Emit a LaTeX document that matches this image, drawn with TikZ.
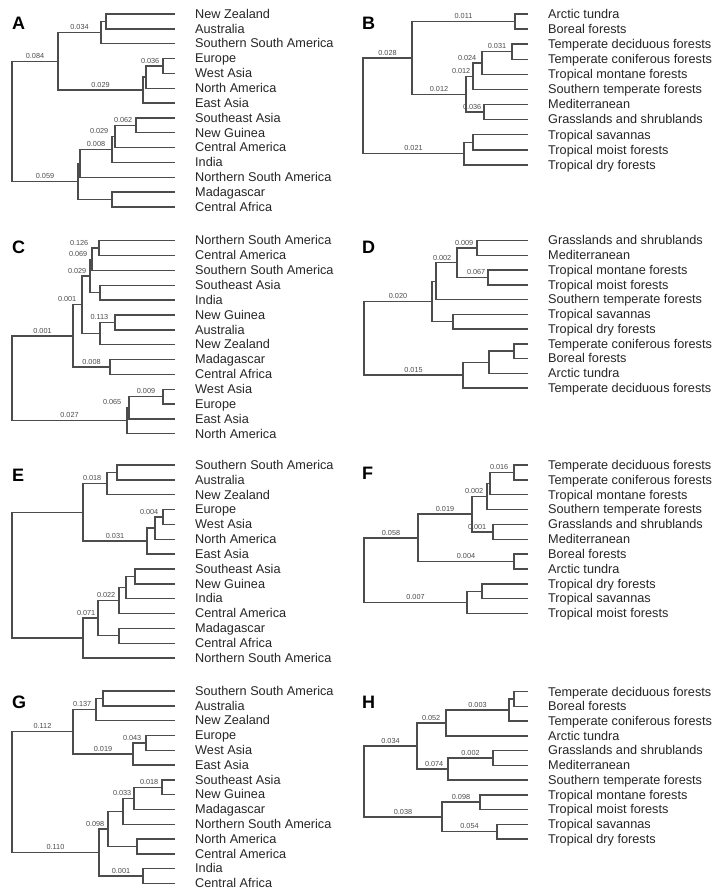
\documentclass[tikz,border=0pt]{standalone}
\usepackage{fontspec}
\setmainfont{Liberation Sans}
\usetikzlibrary{calc}
\newcommand\Lf[3]{\coordinate (#1) at (\tipx,\ybase+\ystep*#2);\node[leaflab] (#1t) at (\tipx+20,\ybase+\ystep*#2+4.3) {#3};}
\newcommand\In[6]{%
 \path let \p1=($(#3)!0.5!(#4)$) in coordinate (#1) at (#2pt,\y1);%
 \draw[br] (#1) |- #5 (#3);%
 \draw[br] (#1) |- #6 (#4);}
\tikzset{
 br/.style={line width=1.4pt, draw=black!70},
 leaflab/.style={anchor=base west, inner sep=0pt, font=\fontsize{12.7}{14}\selectfont, text=black!85},
 lc/.style={pos=.75, anchor=south, inner sep=1pt, yshift=1pt, font=\fontsize{7.3}{7.3}\selectfont, text=black!70},
 lr/.style={lc, pos=1, anchor=south east, xshift=-2pt},
 plab/.style={anchor=base west, inner sep=0pt, font=\fontsize{18}{18}\selectfont\bfseries}
}
\begin{document}
\begin{tikzpicture}[x=1pt,y=-1pt]
\fill[white] (0,0) rectangle (720,890);
\useasboundingbox (0,0) rectangle (720,890);
% ---------- A ----------
\node[plab] (pA) at (12,30) {A};
\def\tipx{175}\def\ybase{14}\def\ystep{14.85}
\Lf{A0}{0}{New Zealand}\Lf{A1}{1}{Australia}\Lf{A2}{2}{Southern South America}
\Lf{A3}{3}{Europe}\Lf{A4}{4}{West Asia}\Lf{A5}{5}{North America}\Lf{A6}{6}{East Asia}
\Lf{A7}{7}{Southeast Asia}\Lf{A8}{8}{New Guinea}\Lf{A9}{9}{Central America}
\Lf{A10}{10}{India}\Lf{A11}{11}{Northern South America}\Lf{A12}{12}{Madagascar}\Lf{A13}{13}{Central Africa}
\In{Aa}{106}{A0}{A1}{}{}
\In{An1}{101}{Aa}{A2}{}{}
\In{Ac}{163}{A3}{A4}{}{}
\In{Ab}{146}{Ac}{A5}{node[lr]{0.036}}{}
\In{An2}{143}{Ab}{A6}{}{}
\In{AU}{58}{An1}{An2}{node[lc]{0.034}}{node[lc]{0.029}}
\In{Aj}{136}{A7}{A8}{}{}
\In{Ag}{115}{Aj}{A9}{node[lr]{0.062}}{}
\In{Ah}{112}{Ag}{A10}{node[lr,xshift=-3pt]{0.029}}{}
\In{Ai}{80}{Ah}{A11}{node[lc]{0.008}}{}
\In{Af}{112}{A12}{A13}{}{}
\In{AL}{78}{Ai}{Af}{}{}
\In{AR}{12}{AU}{AL}{node[lc]{0.084}}{node[lc]{0.059}}
% ---------- B ----------
\node[plab] (pB) at (362,30) {B};
\def\tipx{528}\def\ybase{14}\def\ystep{15.1}
\Lf{B0}{0}{Arctic tundra}\Lf{B1}{1}{Boreal forests}\Lf{B2}{2}{Temperate deciduous forests}
\Lf{B3}{3}{Temperate coniferous forests}\Lf{B4}{4}{Tropical montane forests}
\Lf{B5}{5}{Southern temperate forests}\Lf{B6}{6}{Mediterranean}\Lf{B7}{7}{Grasslands and shrublands}
\Lf{B8}{8}{Tropical savannas}\Lf{B9}{9}{Tropical moist forests}\Lf{B10}{10}{Tropical dry forests}
\In{Bab}{515}{B0}{B1}{}{}
\In{Btt}{512}{B2}{B3}{}{}
\In{Bp}{482}{Btt}{B4}{node[lc]{0.031}}{}
\In{Bk}{473}{Bp}{B5}{node[lr,xshift=-2pt]{0.024}}{}
\In{Bq}{484}{B6}{B7}{}{}
\In{Bm}{466}{Bk}{Bq}{node[lr,xshift=1pt]{0.012}}{node[lr,xshift=1pt]{0.036}}
\In{BU}{412}{Bab}{Bm}{node[lc]{0.011}}{node[lc]{0.012}}
\In{Bts}{473}{B8}{B9}{}{}
\In{Btr}{464}{Bts}{B10}{}{}
\In{BR}{363}{BU}{Btr}{node[lc]{0.028}}{node[lc]{0.021}}
% ---------- C ----------
\node[plab] (pC) at (12,254) {C};
\def\tipx{175}\def\ybase{240.7}\def\ystep{14.85}
\Lf{C0}{0}{Northern South America}\Lf{C1}{1}{Central America}\Lf{C2}{2}{Southern South America}
\Lf{C3}{3}{Southeast Asia}\Lf{C4}{4}{India}\Lf{C5}{5}{New Guinea}\Lf{C6}{6}{Australia}
\Lf{C7}{7}{New Zealand}\Lf{C8}{8}{Madagascar}\Lf{C9}{9}{Central Africa}\Lf{C10}{10}{West Asia}
\Lf{C11}{11}{Europe}\Lf{C12}{12}{East Asia}\Lf{C13}{13}{North America}
\In{Cp1}{99}{C0}{C1}{}{}
\In{Cp2}{92}{Cp1}{C2}{node[lr,xshift=-7pt]{0.126}}{}
\In{Cq}{100}{C3}{C4}{}{}
\In{Cp3}{90}{Cp2}{Cq}{node[lr,xshift=-1pt]{0.069}}{}
\In{Cr}{115}{C5}{C6}{}{}
\In{CX}{100}{Cr}{C7}{node[lr,xshift=-3pt]{0.113}}{}
\In{Cp4}{82}{Cp3}{CX}{node[lr]{0.029}}{}
\In{Cs}{110}{C8}{C9}{}{}
\In{CU}{73}{Cp4}{Cs}{node[lr,xshift=-2pt]{0.001}}{node[lc]{0.008}}
\In{Ct}{163}{C10}{C11}{}{}
\In{Cw}{129}{Ct}{C12}{node[lc]{0.009}}{}
\In{CL}{127}{Cw}{C13}{node[lr,xshift=-4pt]{0.065}}{}
\In{CR}{12}{CU}{CL}{node[lc]{0.001}}{node[lc]{0.027}}
% ---------- D ----------
\node[plab] (pD) at (362,254) {D};
\def\tipx{528}\def\ybase{240.7}\def\ystep{14.73}
\Lf{D0}{0}{Grasslands and shrublands}\Lf{D1}{1}{Mediterranean}\Lf{D2}{2}{Tropical montane forests}
\Lf{D3}{3}{Tropical moist forests}\Lf{D4}{4}{Southern temperate forests}\Lf{D5}{5}{Tropical savannas}
\Lf{D6}{6}{Tropical dry forests}\Lf{D7}{7}{Temperate coniferous forests}\Lf{D8}{8}{Boreal forests}
\Lf{D9}{9}{Arctic tundra}\Lf{D10}{10}{Temperate deciduous forests}
\In{Dgm}{477}{D0}{D1}{}{}
\In{Dtm}{488}{D2}{D3}{}{}
\In{DY}{457}{Dgm}{Dtm}{node[lr]{0.009}}{node[lr,xshift=1pt]{0.067}}
\In{DW}{436}{DY}{D4}{node[lr,xshift=-2pt]{0.002}}{}
\In{Dst}{453}{D5}{D6}{}{}
\In{DU}{432}{DW}{Dst}{}{}
\In{Dcb}{514}{D7}{D8}{}{}
\In{DZ}{489}{Dcb}{D9}{}{}
\In{DL}{463}{DZ}{D10}{}{}
\In{DR}{364}{DU}{DL}{node[lc]{0.020}}{node[lc]{0.015}}
% ---------- E ----------
\node[plab] (pE) at (12,481) {E};
\def\tipx{175}\def\ybase{465}\def\ystep{14.85}
\Lf{E0}{0}{Southern South America}\Lf{E1}{1}{Australia}\Lf{E2}{2}{New Zealand}\Lf{E3}{3}{Europe}
\Lf{E4}{4}{West Asia}\Lf{E5}{5}{North America}\Lf{E6}{6}{East Asia}\Lf{E7}{7}{Southeast Asia}
\Lf{E8}{8}{New Guinea}\Lf{E9}{9}{India}\Lf{E10}{10}{Central America}\Lf{E11}{11}{Madagascar}
\Lf{E12}{12}{Central Africa}\Lf{E13}{13}{Northern South America}
\In{Ec}{117}{E0}{E1}{}{}
\In{Ea}{107}{Ec}{E2}{}{}
\In{Ee}{163}{E3}{E4}{}{}
\In{Ed}{155}{Ee}{E5}{node[lr,xshift=-1pt]{0.004}}{}
\In{Eb}{147}{Ed}{E6}{}{}
\In{EU}{83}{Ea}{Eb}{node[lr,xshift=-2pt]{0.018}}{node[lc]{0.031}}
\In{Ei}{135}{E7}{E8}{}{}
\In{Eh}{126}{Ei}{E9}{}{}
\In{Eg}{119}{Eh}{E10}{}{}
\In{Ej}{119}{E11}{E12}{}{}
\In{Ef}{98}{Eg}{Ej}{node[lr]{0.022}}{}
\In{EL}{83}{Ef}{E13}{node[lr,xshift=1pt]{0.071}}{}
\In{ER}{12}{EU}{EL}{}{}
% ---------- F ----------
\node[plab] (pF) at (362,479) {F};
\def\tipx{528}\def\ybase{465}\def\ystep{14.85}
\Lf{F0}{0}{Temperate deciduous forests}\Lf{F1}{1}{Temperate coniferous forests}
\Lf{F2}{2}{Tropical montane forests}\Lf{F3}{3}{Southern temperate forests}
\Lf{F4}{4}{Grasslands and shrublands}\Lf{F5}{5}{Mediterranean}\Lf{F6}{6}{Boreal forests}
\Lf{F7}{7}{Arctic tundra}\Lf{F8}{8}{Tropical dry forests}\Lf{F9}{9}{Tropical savannas}
\Lf{F10}{10}{Tropical moist forests}
\In{Ftt}{514}{F0}{F1}{}{}
\In{FX}{490}{Ftt}{F2}{node[lr,xshift=-2pt]{0.016}}{}
\In{FW}{487}{FX}{F3}{}{}
\In{Fgm}{493}{F4}{F5}{}{}
\In{FV}{472}{FW}{Fgm}{node[lr]{0.002}}{node[lr,xshift=-3pt]{0.001}}
\In{Fba}{514}{F6}{F7}{}{}
\In{FU}{418}{FV}{Fba}{node[lc]{0.019}}{node[lc]{0.004}}
\In{Fds}{482}{F8}{F9}{}{}
\In{FL}{467}{Fds}{F10}{}{}
\In{FR}{364}{FU}{FL}{node[lc]{0.058}}{node[lc]{0.007}}
% ---------- G ----------
\node[plab] (pG) at (12,708) {G};
\def\tipx{175}\def\ybase{691}\def\ystep{14.8}
\Lf{G0}{0}{Southern South America}\Lf{G1}{1}{Australia}\Lf{G2}{2}{New Zealand}\Lf{G3}{3}{Europe}
\Lf{G4}{4}{West Asia}\Lf{G5}{5}{East Asia}\Lf{G6}{6}{Southeast Asia}\Lf{G7}{7}{New Guinea}
\Lf{G8}{8}{Madagascar}\Lf{G9}{9}{Northern South America}\Lf{G10}{10}{North America}
\Lf{G11}{11}{Central America}\Lf{G12}{12}{India}\Lf{G13}{13}{Central Africa}
\In{Gc}{103}{G0}{G1}{}{}
\In{Ga}{96}{Gc}{G2}{}{}
\In{Gd}{146}{G3}{G4}{}{}
\In{Gb}{133}{Gd}{G5}{node[lr,xshift=-1pt]{0.043}}{}
\In{GU}{73}{Ga}{Gb}{node[lr,xshift=-1pt]{0.137}}{node[lc]{0.019}}
\In{Gj}{162}{G6}{G7}{}{}
\In{Gi}{134}{Gj}{G8}{node[lr]{0.018}}{}
\In{Gg}{123}{Gi}{G9}{node[lr,xshift=1pt]{0.033}}{}
\In{Gh}{137}{G10}{G11}{}{}
\In{Ge}{108}{Gg}{Gh}{}{}
\In{Gf}{143}{G12}{G13}{}{}
\In{GL}{99}{Ge}{Gf}{node[lr]{0.098}}{node[lc]{0.001}}
\In{GR}{12}{GU}{GL}{node[lc]{0.112}}{node[lc]{0.110}}
% ---------- H ----------
\node[plab] (pH) at (362,708) {H};
\def\tipx{528}\def\ybase{691.7}\def\ystep{14.73}
\Lf{H0}{0}{Temperate deciduous forests}\Lf{H1}{1}{Boreal forests}\Lf{H2}{2}{Temperate coniferous forests}
\Lf{H3}{3}{Arctic tundra}\Lf{H4}{4}{Grasslands and shrublands}\Lf{H5}{5}{Mediterranean}
\Lf{H6}{6}{Southern temperate forests}\Lf{H7}{7}{Tropical montane forests}\Lf{H8}{8}{Tropical moist forests}
\Lf{H9}{9}{Tropical savannas}\Lf{H10}{10}{Tropical dry forests}
\In{Hd}{514}{H0}{H1}{}{}
\In{Hc}{509}{Hd}{H2}{}{}
\In{Ha}{446}{Hc}{H3}{node[lc]{0.003}}{}
\In{He}{493}{H4}{H5}{}{}
\In{Hb}{448}{He}{H6}{node[lc]{0.002}}{}
\In{HU}{417}{Ha}{Hb}{node[lr,xshift=-2pt]{0.052}}{node[lr,xshift=-1pt]{0.074}}
\In{Hf}{480}{H7}{H8}{}{}
\In{Hg}{497}{H9}{H10}{}{}
\In{HL}{442}{Hf}{Hg}{node[lc]{0.098}}{node[lc]{0.054}}
\In{HR}{364}{HU}{HL}{node[lc]{0.034}}{node[lc]{0.038}}
\end{tikzpicture}
\end{document}
